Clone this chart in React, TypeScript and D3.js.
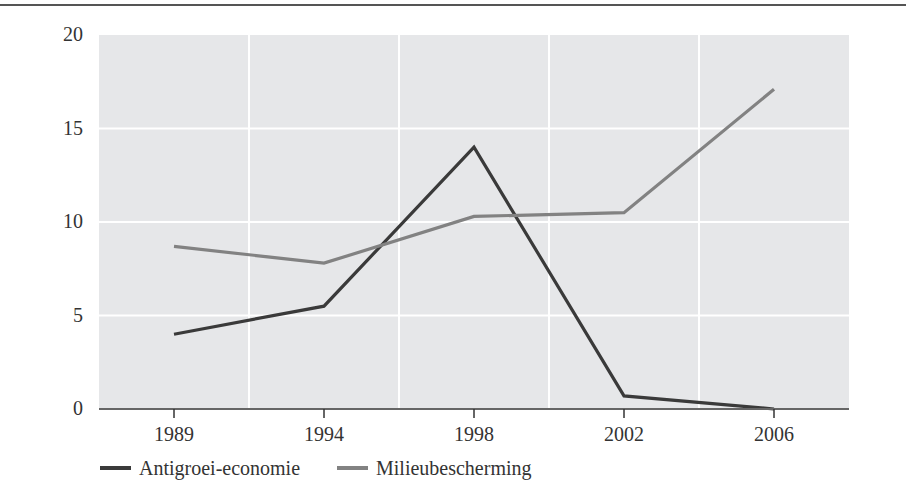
// @ts-nocheck
import React from 'react';
import * as d3 from 'd3';

const years = ['1989', '1994', '1998', '2002', '2006'];
const antigroei = [4.0, 5.5, 14.0, 0.7, 0.0];
const milieu = [8.7, 7.8, 10.3, 10.5, 17.1];
const yTicks = [0, 5, 10, 15, 20];
const series = [
  { name: 'Antigroei-economie', values: antigroei, color: '#3a3a3a' },
  { name: 'Milieubescherming', values: milieu, color: '#828282' },
];

const width = 906, height = 498;
const left = 99, right = 849, top = 35, bottom = 409;
const font = '"Liberation Serif", "DejaVu Serif", serif';

export default function App() {
  const x = d3.scaleBand().domain(years).range([left, right]);
  const y = d3.scaleLinear().domain([0, 20]).range([bottom, top]);
  const line = d3.line()
    .x((d, i) => x(years[i]) + x.bandwidth() / 2)
    .y(d => y(d));

  return (
    <svg width={width} height={height} style={{ position: 'absolute', left: 0, top: 0, background: '#fff' }}>
      {/* top rule */}
      <line x1={0} x2={width} y1={5} y2={5} stroke="#555" strokeWidth={2.2} />

      {/* plot area */}
      <rect x={left} y={top} width={right - left} height={bottom - top} fill="#e6e7e9" />
      {yTicks.slice(1, -1).map(t => (
        <line key={'h' + t} x1={left} x2={right} y1={y(t)} y2={y(t)} stroke="#fff" strokeWidth={2} />
      ))}
      {years.slice(1).map(yr => (
        <line key={'v' + yr} x1={x(yr)} x2={x(yr)} y1={top} y2={bottom} stroke="#fff" strokeWidth={2} />
      ))}

      {/* y labels */}
      {yTicks.map(t => (
        <text key={'yl' + t} x={83} y={y(t) + 6} textAnchor="end" fontFamily={font} fontSize={20} fill="#333">{t}</text>
      ))}

      {/* lines */}
      {series.map(s => (
        <path key={s.name} d={line(s.values)} fill="none" stroke={s.color} strokeWidth={3.2} strokeLinejoin="miter" />
      ))}

      {/* x axis */}
      <line x1={left} x2={right} y1={bottom} y2={bottom} stroke="#666" strokeWidth={2} />
      {years.map(yr => {
        const cx = x(yr) + x.bandwidth() / 2;
        return (
          <g key={'xt' + yr}>
            <line x1={cx} x2={cx} y1={bottom} y2={bottom + 9} stroke="#333" strokeWidth={1.5} />
            <text x={cx} y={441} textAnchor="middle" fontFamily={font} fontSize={20} fill="#333">{yr}</text>
          </g>
        );
      })}

      {/* legend */}
      {series.map((s, i) => {
        const lx = i === 0 ? 100 : 337;
        return (
          <g key={'lg' + s.name}>
            <line x1={lx} x2={lx + 31} y1={468} y2={468} stroke={s.color} strokeWidth={4} />
            <text x={lx + 39} y={475} fontFamily={font} fontSize={20} fill="#333">{s.name}</text>
          </g>
        );
      })}
    </svg>
  );
}
